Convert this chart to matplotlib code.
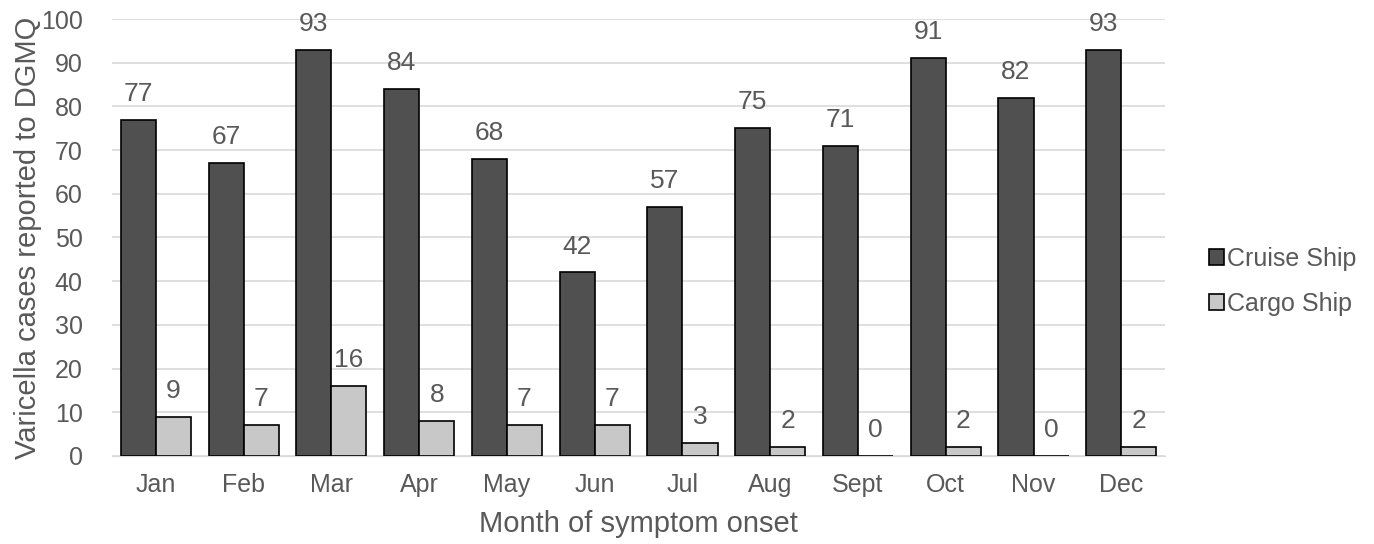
import matplotlib
matplotlib.use("Agg")
import matplotlib.pyplot as plt
import numpy as np

months = ["Jan", "Feb", "Mar", "Apr", "May", "Jun", "Jul", "Aug", "Sept", "Oct", "Nov", "Dec"]
cruise = [77, 67, 93, 84, 68, 42, 57, 75, 71, 91, 82, 93]
cargo = [9, 7, 16, 8, 7, 7, 3, 2, 0, 2, 0, 2]
series_names = ["Cruise Ship", "Cargo Ship"]

plt.rcParams['font.family'] = ['Liberation Sans', 'DejaVu Sans']
txt = "#595959"

fig = plt.figure(figsize=(13.74, 5.44), dpi=100)
ax = fig.add_axes([0.0815, 0.162, 0.7665, 0.803])

x = np.arange(len(months))
w = 0.4
ax.bar(x - w/2, cruise, w, color="#505050", edgecolor="black", linewidth=1.2, label=series_names[0], zorder=3)
ax.bar(x + w/2, cargo, w, color="#c8c8c8", edgecolor="black", linewidth=1.2, label=series_names[1], zorder=3)

for xi, v in zip(x, cruise):
    ax.annotate(str(v), (xi - w/2, v), xytext=(0, 10), textcoords="offset points",
                ha="center", va="bottom", fontsize=19, color=txt)
for xi, v in zip(x, cargo):
    ax.annotate(str(v), (xi + w/2, v), xytext=(0, 10), textcoords="offset points",
                ha="center", va="bottom", fontsize=19, color=txt)

ax.set_xlim(-0.5, 11.5)
ax.set_ylim(0, 100)
ax.set_yticks(range(0, 101, 10))
ax.set_xticks(x)
ax.set_xticklabels(months)
ax.tick_params(axis="both", length=0, labelsize=18, colors=txt)
ax.tick_params(axis="x", pad=12)
ax.tick_params(axis="y", pad=21)
ax.yaxis.grid(True, color="#d9d9d9", linewidth=1.2, zorder=0)
for s in ["top", "right", "left"]:
    ax.spines[s].set_visible(False)
ax.spines["bottom"].set_color("#d9d9d9")
ax.set_ylabel("Varicella cases reported to DGMQ", fontsize=21, color=txt)
ax.yaxis.set_label_coords(-0.066, 0.5)
ax.set_xlabel("Month of symptom onset", fontsize=21, color=txt, labelpad=10)

leg = ax.legend(loc="center left", bbox_to_anchor=(1.02, 0.40), frameon=False, fontsize=18,
                handlelength=0.6, handleheight=0.6, handletextpad=0.15, labelspacing=0.85)
for t in leg.get_texts():
    t.set_color(txt)

fig.savefig("out.png", dpi=100)
